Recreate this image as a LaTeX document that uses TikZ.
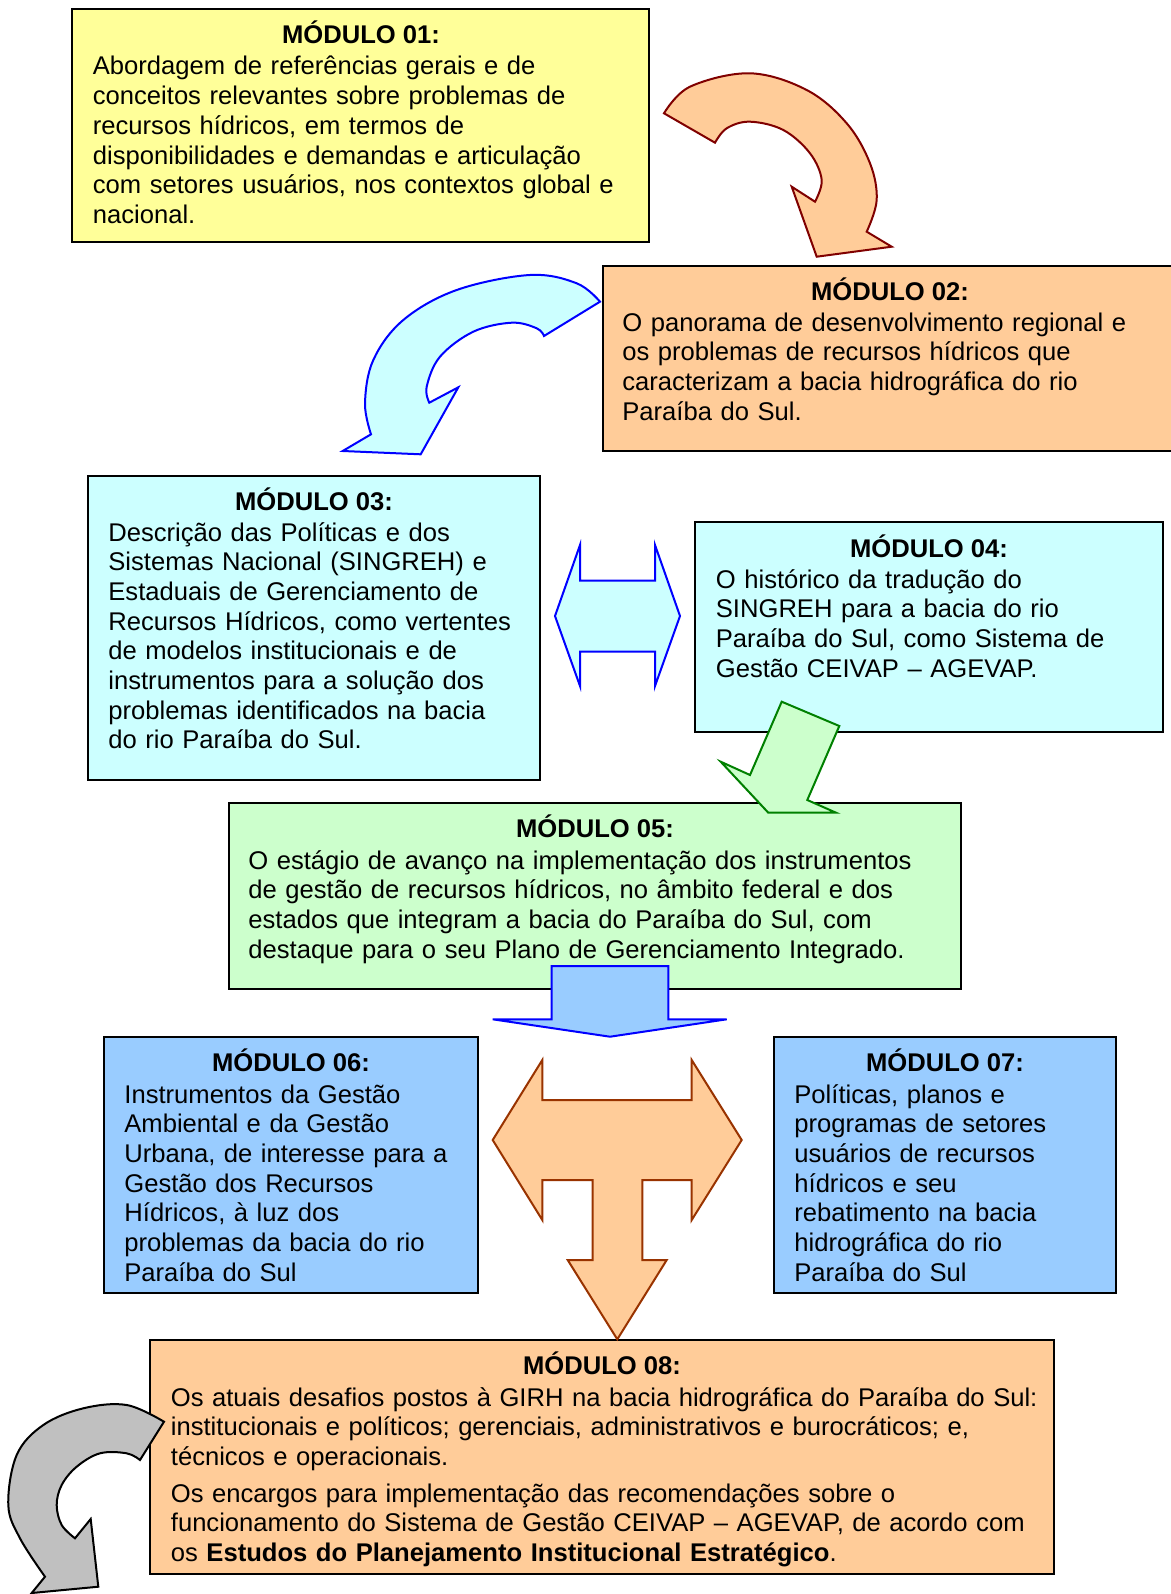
\documentclass[tikz,border=0pt]{standalone}
\usepackage{fontspec}
\setmainfont{Liberation Sans}
\usetikzlibrary{fit}
\definecolor{paleyellow}{HTML}{FFFF99}
\definecolor{peach}{HTML}{FFCC99}
\definecolor{palecyan}{HTML}{CCFFFF}
\definecolor{palegreen}{HTML}{CCFFCC}
\definecolor{paleblue}{HTML}{99CCFF}
\definecolor{maroonline}{HTML}{800000}
\definecolor{rustline}{HTML}{993300}
\definecolor{greenline}{HTML}{008000}
\definecolor{silvergray}{HTML}{C0C0C0}
\tikzset{
  box/.style={draw=black, line width=1pt, inner sep=0pt},
  modtitle/.style={font=\fontsize{12.8}{14.85}\selectfont\bfseries, inner sep=0pt, anchor=base},
  modbody/.style={font=\fontsize{12.8}{14.85}\selectfont, inner sep=0pt, anchor=base west, align=left},
  flowshape/.style={line width=1pt, line join=miter},
}
\begin{document}
\begin{tikzpicture}[x=0.5pt, y=-0.5pt]
\clip (0,0) rectangle (1171,1594);
\fill[white] (0,0) rectangle (1171,1594);

% module boxes
\node[box, fill=paleyellow, fit={(72,9) (649,242)}] (m1) {};
\node[box, fill=peach, fit={(603,266) (1177,451)}] (m2) {};
\node[box, fill=palecyan, fit={(88,476) (540,780)}] (m3) {};
\node[box, fill=palecyan, fit={(695,522) (1163,732)}] (m4) {};
\node[box, fill=palegreen, fit={(229,803) (961,989)}] (m5) {};
\node[box, fill=paleblue, fit={(104,1037) (478,1293)}] (m6) {};
\node[box, fill=paleblue, fit={(774,1037) (1116,1293)}] (m7) {};
\node[box, fill=peach, fit={(150,1340) (1054,1574)}] (m8) {};

% titles
\node[modtitle] (t1) at (361,43.5) {MÓDULO 01:};
\node[modtitle] (t2) at (890,300) {MÓDULO 02:};
\node[modtitle] (t3) at (314,510) {MÓDULO 03:};
\node[modtitle] (t4) at (929,557) {MÓDULO 04:};
\node[modtitle] (t5) at (595,837.5) {MÓDULO 05:};
\node[modtitle] (t6) at (291,1071) {MÓDULO 06:};
\node[modtitle] (t7) at (945,1071) {MÓDULO 07:};
\node[modtitle] (t8) at (602,1374) {MÓDULO 08:};

% body texts
\node[modbody, text width=285pt] (b1) at (92.5,75) {Abordagem de referências gerais e de\\
conceitos relevantes sobre problemas de\\
recursos hídricos, em termos de\\
disponibilidades e demandas e articulação\\
com setores usuários, nos contextos global e\\
nacional.};
\node[modbody, text width=280pt] (b2) at (622,331) {O panorama de desenvolvimento regional e\\
os problemas de recursos hídricos que\\
caracterizam a bacia hidrográfica do rio\\
Paraíba do Sul.};
\node[modbody, text width=222pt] (b3) at (108,541) {Descrição das Políticas e dos\\
Sistemas Nacional (SINGREH) e\\
Estaduais de Gerenciamento de\\
Recursos Hídricos, como vertentes\\
de modelos institucionais e de\\
instrumentos para a solução dos\\
problemas identificados na bacia\\
do rio Paraíba do Sul.};
\node[modbody, text width=222pt] (b4) at (715.5,588) {O histórico da tradução do\\
SINGREH para a bacia do rio\\
Paraíba do Sul, como Sistema de\\
Gestão CEIVAP – AGEVAP.};
\node[modbody, text width=355pt] (b5) at (248,869) {O estágio de avanço na implementação dos instrumentos\\
de gestão de recursos hídricos, no âmbito federal e dos\\
estados que integram a bacia do Paraíba do Sul, com\\
destaque para o seu Plano de Gerenciamento Integrado.};
\node[modbody, text width=176pt] (b6) at (124,1103) {Instrumentos da Gestão\\
Ambiental e da Gestão\\
Urbana, de interesse para a\\
Gestão dos Recursos\\
Hídricos, à luz dos\\
problemas da bacia do rio\\
Paraíba do Sul};
\node[modbody, text width=158pt] (b7) at (794,1103) {Políticas, planos e\\
programas de setores\\
usuários de recursos\\
hídricos e seu\\
rebatimento na bacia\\
hidrográfica do rio\\
Paraíba do Sul};
\node[modbody, text width=470pt] (b8) at (170.5,1406) {Os atuais desafios postos à GIRH na bacia hidrográfica do Paraíba do Sul:\\
institucionais e políticos; gerenciais, administrativos e burocráticos; e,\\
técnicos e operacionais.\\[3.5pt]
Os encargos para implementação das recomendações sobre o\\
funcionamento do Sistema de Gestão CEIVAP – AGEVAP, de acordo com\\
os \textbf{Estudos do Planejamento Institucional Estratégico}.};

% curved arrow from module 01 to module 02
\filldraw[flowshape, fill=peach, draw=maroonline]
  plot[smooth, tension=0.6] coordinates {(664,113.3) (690,86.7) (750,73.3) (806.7,90) (846.7,123.3) (870,163.3) (876.7,200) (866.7,231.7)}
  -- (891.7,246.7) -- (816.7,256.7) -- (791.7,186.7) -- (815,201.7)
  -- plot[smooth, tension=0.6] coordinates {(815,201.7) (821.7,180) (810,153.3) (783.3,130) (750,121.7) (726.7,128.3) (715,142.7)}
  -- cycle;

% curved arrow from module 02 to module 03
\filldraw[flowshape, fill=palecyan, draw=blue]
  plot[smooth, tension=0.6] coordinates {(600,301.7) (576.7,283.3) (530,275) (456.7,290) (403.3,320) (373.3,360) (365,403.3) (371,434.3)}
  -- (342.7,451) -- (420.7,454.3) -- (458.3,387.3) -- (429.3,402.7)
  -- plot[smooth, tension=0.6] coordinates {(429.3,402.7) (426.7,386.7) (440,356.7) (473.3,331.7) (511.7,322.7) (536.7,328.3) (544,336)}
  -- cycle;

% double arrow between modules 03 and 04
\filldraw[flowshape, fill=palecyan, draw=blue]
  (555,616) -- (580,545) -- (580,580.7) -- (655,580.7) -- (655,545) -- (680,616)
  -- (655,686) -- (655,651.7) -- (580,651.7) -- (580,686) -- cycle;

% arrow from module 04 to module 05
\filldraw[flowshape, fill=palegreen, draw=greenline]
  (781.7,701.7) -- (839.3,726) -- (807.3,800) -- (836,812.7) -- (768.3,812.7)
  -- (720.7,761.7) -- (750,775) -- cycle;

% arrow below module 05
\filldraw[flowshape, fill=paleblue, draw=blue]
  (551.7,966) -- (668.3,966) -- (668.3,1019.3) -- (726.7,1019.3) -- (610,1036.7)
  -- (492.7,1019.3) -- (551.7,1019.3) -- cycle;

% three-way arrow towards modules 06, 07 and 08
\filldraw[flowshape, fill=peach, draw=rustline]
  (492.7,1140) -- (542.3,1060) -- (542.3,1100) -- (691.7,1100) -- (691.7,1060)
  -- (741.7,1140) -- (691.7,1220) -- (691.7,1180) -- (642.3,1180) -- (642.3,1260)
  -- (666.7,1260) -- (617.3,1339.3) -- (567.7,1260) -- (592.7,1260) -- (592.7,1180)
  -- (542.3,1180) -- (542.3,1220) -- cycle;

% curved arrow leaving module 08
\filldraw[flowshape, fill=silvergray, draw=black]
  plot[smooth, tension=0.6] coordinates {(164,1421.7) (126.7,1405) (83.3,1408.3) (43.3,1425) (16.7,1455) (8.3,1505) (20,1538.3) (45,1576.7)}
  -- (31.7,1593) -- (98.3,1586.7) -- (90.7,1519) -- (75,1538.3)
  -- plot[smooth, tension=0.6] coordinates {(75,1538.3) (61.7,1525) (56.7,1505) (61.7,1485) (76.7,1466.7) (100,1453.3) (126.7,1453.3) (140,1460)}
  -- cycle;
\end{tikzpicture}
\end{document}
